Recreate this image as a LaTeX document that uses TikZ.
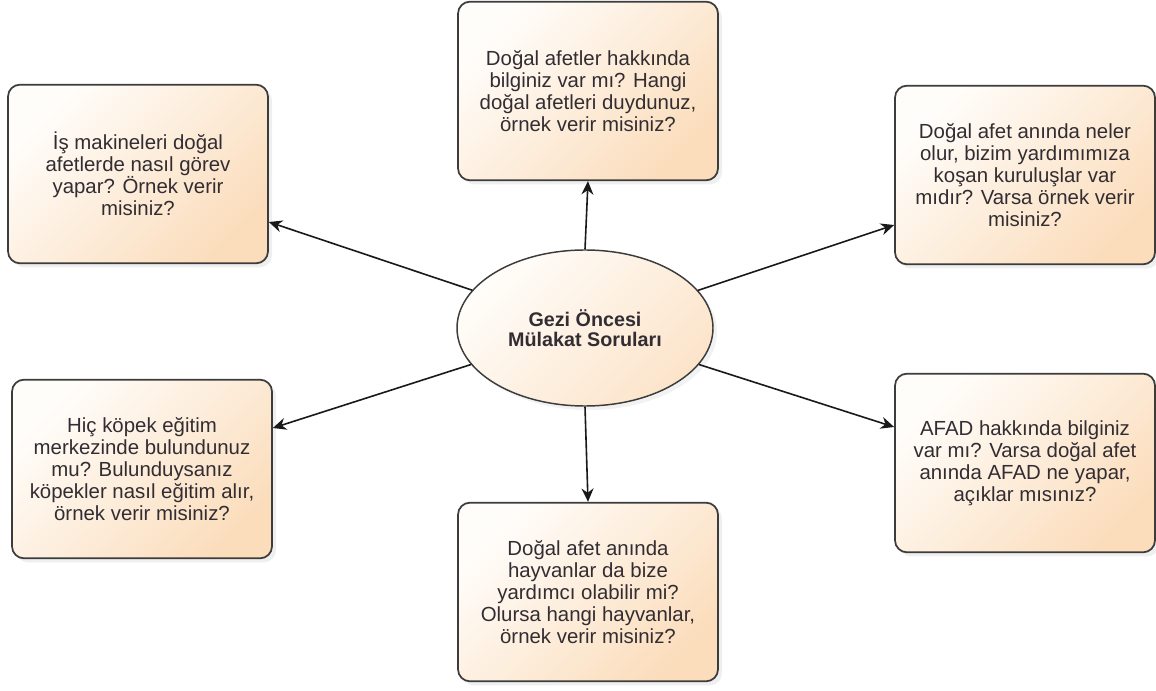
\documentclass[tikz,border=0pt]{standalone}
\usepackage{fontspec}
\setmainfont{Liberation Sans}
\usetikzlibrary{arrows.meta,calc,shapes.geometric,shadows}
\definecolor{peach}{RGB}{251,221,188}
\definecolor{boxtop}{RGB}{255,253,250}
\definecolor{ellpeach}{RGB}{252,228,202}
\definecolor{boxline}{RGB}{60,60,60}
\definecolor{textgray}{RGB}{50,45,50}
\definecolor{arrowcol}{RGB}{25,25,25}
\tikzset{
  qbox/.style={draw=boxline, line width=1.3pt, rounded corners=9pt,
    top color=boxtop, bottom color=peach, shading angle=45,
    drop shadow={opacity=0.12, shadow xshift=3pt, shadow yshift=-3pt},
    text=textgray, align=center, inner sep=0pt,
    font=\fontsize{15.3}{16.4}\selectfont,
    minimum width=195pt, minimum height=134pt},
  center/.style={ellipse, draw=boxline, line width=1.1pt,
    top color=boxtop, bottom color=ellpeach, shading angle=45,
    drop shadow={opacity=0.10, shadow xshift=3pt, shadow yshift=-3pt},
    text=textgray, align=center, inner sep=0pt,
    font=\fontsize{14.8}{14.6}\selectfont\bfseries,
    minimum width=192pt, minimum height=117pt},
  conn/.style={draw=arrowcol, line width=1.2pt, -{Stealth[length=10pt,width=9pt]}}
}
\begin{document}
\begin{tikzpicture}[x=0.75pt,y=-0.75pt]
\useasboundingbox (0,0) rectangle (1156,691);
\fill[white] (0,0) rectangle (1156,691);

\node[qbox] (tl) at (138,174) {İş makineleri doğal\\afetlerde nasıl görev\\yapar? Örnek verir\\misiniz?};
\node[qbox] (top) at (588,91) {Doğal afetler hakkında\\bilginiz var mı? Hangi\\doğal afetleri duydunuz,\\örnek verir misiniz?};
\node[qbox] (tr) at (1025,175) {Doğal afet anında neler\\olur, bizim yardımımıza\\koşan kuruluşlar var\\mıdır? Varsa örnek verir\\misiniz?};
\node[qbox] (bl) at (142,469) {Hiç köpek eğitim\\merkezinde bulundunuz\\mu? Bulunduysanız\\köpekler nasıl eğitim alır,\\örnek verir misiniz?};
\node[qbox] (bot) at (588,592) {Doğal afet anında\\hayvanlar da bize\\yardımcı olabilir mi?\\Olursa hangi hayvanlar,\\örnek verir misiniz?};
\node[qbox] (br) at (1025,463) {AFAD hakkında bilginiz\\var mı? Varsa doğal afet\\anında AFAD ne yapar,\\açıklar mısınız?};

\node[center] (c) at (585,328) {Gezi Öncesi\\Mülakat Soruları};

\coordinate (tle) at ($(tl.east)+(0,48)$);
\coordinate (trw) at ($(tr.west)+(0,50)$);
\coordinate (ble) at ($(bl.east)+(0,-41)$);
\coordinate (brw) at ($(br.west)+(0,-36)$);

\draw[conn] (c) -- (tle);
\draw[conn] (c) -- (trw);
\draw[conn] (c) -- (ble);
\draw[conn] (c) -- (brw);
\draw[conn] (c.north) -- (top.south);
\draw[conn] (c.south) -- (bot.north);
\end{tikzpicture}
\end{document}
